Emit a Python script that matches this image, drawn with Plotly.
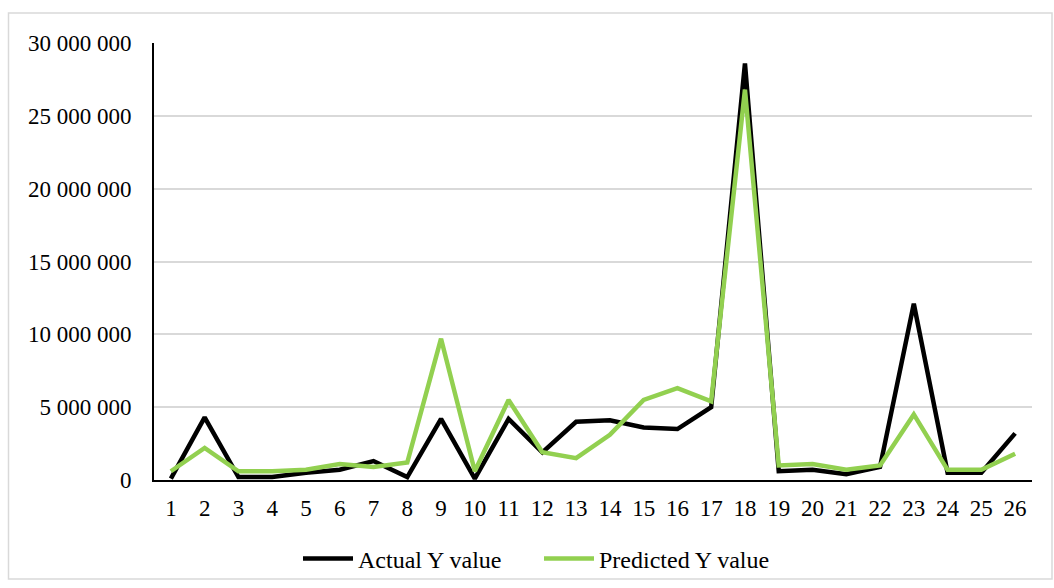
import plotly.graph_objects as go

categories = [str(i) for i in range(1, 27)]
actual = [0.1, 4.3, 0.2, 0.2, 0.5, 0.7, 1.3, 0.2, 4.2, 0.1, 4.2, 1.9, 4.0, 4.1, 3.6, 3.5, 5.0,
          28.6, 0.6, 0.7, 0.4, 0.9, 12.1, 0.5, 0.5, 3.2]
predicted = [0.6, 2.2, 0.6, 0.6, 0.7, 1.1, 0.9, 1.2, 9.7, 0.6, 5.5, 1.9, 1.5, 3.1, 5.5, 6.3, 5.4,
             26.8, 1.0, 1.1, 0.7, 1.0, 4.5, 0.7, 0.7, 1.8]
actual = [v * 1e6 for v in actual]
predicted = [v * 1e6 for v in predicted]
y_ticks = [0, 5e6, 10e6, 15e6, 20e6, 25e6, 30e6]
y_ticktext = ["0", "5 000 000", "10 000 000", "15 000 000", "20 000 000", "25 000 000", "30 000 000"]

fig = go.Figure()
fig.add_trace(go.Scatter(x=categories, y=actual, mode="lines", name="Actual Y value",
                         line=dict(color="#000000", width=4.5)))
fig.add_trace(go.Scatter(x=categories, y=predicted, mode="lines", name="Predicted Y value",
                         line=dict(color="#92d050", width=4.5)))

W, H = 1054, 580
L, R, T, B = 154, W - 1032, 43, H - 480
pw, ph = W - L - R, H - T - B


def px_x(sx):
    return (sx - L) / pw


def px_y(sy):
    return (ph + T - sy) / ph


font = dict(family="Liberation Serif, Times New Roman, serif", size=23, color="#000000")
legend_font = dict(family="Liberation Serif, Times New Roman, serif", size=24, color="#000000")
fig.update_layout(
    width=W, height=H,
    margin=dict(l=L, r=R, t=T, b=B),
    paper_bgcolor="white", plot_bgcolor="white",
    font=font,
    showlegend=True,
    legend=dict(orientation="h", xref="container", yref="container",
                x=298 / W, xanchor="left", y=1 - 559 / H, yanchor="middle",
                font=legend_font, itemwidth=50, entrywidth=176, traceorder="normal",
                bgcolor="rgba(0,0,0,0)"),
    xaxis=dict(type="category", showgrid=False, showline=True, linecolor="#000000", linewidth=2,
               ticks="", tickfont=font, range=[-0.5, 25.5], ticklabelstandoff=6, automargin=False),
    yaxis=dict(range=[0, 30e6], tickvals=y_ticks, ticktext=y_ticktext, showgrid=True,
               gridcolor="#d9d9d9", gridwidth=1.5, showline=True, linecolor="#000000", linewidth=2,
               ticks="", tickfont=font, zeroline=False, ticklabelstandoff=16, automargin=False),
    shapes=[dict(type="rect", xref="paper", yref="paper",
                 x0=px_x(8.5), x1=px_x(1052), y0=px_y(579), y1=px_y(13),
                 line=dict(color="#d9d9d9", width=1.5), layer="below")],
)
fig.write_html("out.html", config={"displayModeBar": False},
               post_script="document.body.style.margin='0';")
